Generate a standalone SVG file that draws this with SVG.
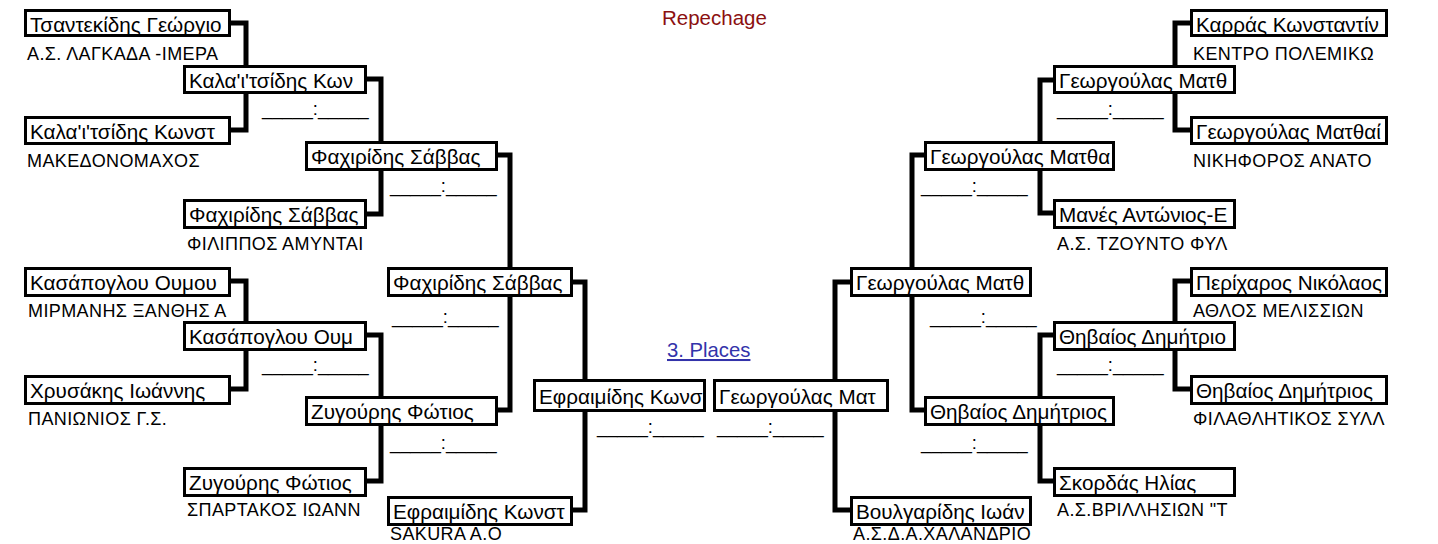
<svg xmlns="http://www.w3.org/2000/svg" width="1438" height="544" viewBox="0 0 1438 544">
<style>
text{font-family:"Liberation Sans",Arial,"Noto Sans",sans-serif;fill:#000}
.box{fill:#fff;stroke:#000;stroke-width:3}
.n{font-size:20.7px}
.c{font-size:18px;letter-spacing:0.4px}
.s{font-size:18.3px}
.con{fill:none;stroke:#000;stroke-width:5;stroke-linejoin:miter}
</style>
<rect width="1438" height="544" fill="#fff"/>
<text x="662" y="25" style="font-size:20.5px;fill:#8b1010">Repechage</text>
<text x="667" y="357" style="font-size:20.3px;fill:#3333aa;text-decoration:underline">3. Places</text>
<g id="connectors">
<path class="con" d="M231,23 H246 V130 H231"/>
<path class="con" d="M231,281 H246 V389 H231"/>
<path class="con" d="M366,79 H381 V214 H366"/>
<path class="con" d="M366,335 H381 V481 H366"/>
<path class="con" d="M498,155 H510 V410 H498"/>
<path class="con" d="M573,282 H585 V510 H573"/>
<path class="con" d="M850,282 H835 V510 H850"/>
<path class="con" d="M924,155 H912 V410 H924"/>
<path class="con" d="M1053,80 H1040 V213 H1053"/>
<path class="con" d="M1053,335 H1040 V481 H1053"/>
<path class="con" d="M1190,23 H1175 V130 H1190"/>
<path class="con" d="M1190,281 H1175 V389 H1190"/>
</g>
<g id="scores" class="s">
<text x="262" y="115">_____:_____</text>
<text x="262" y="371">_____:_____</text>
<text x="390" y="192">_____:_____</text>
<text x="390" y="449">_____:_____</text>
<text x="392" y="323">_____:_____</text>
<text x="597" y="433">_____:_____</text>
<text x="717" y="433">_____:_____</text>
<text x="930" y="323">_____:_____</text>
<text x="921" y="192">_____:_____</text>
<text x="921" y="449">_____:_____</text>
<text x="1057" y="115">_____:_____</text>
<text x="1057" y="371">_____:_____</text>
</g>
<g id="L1a"><rect class="box" x="25.5" y="10.5" width="204" height="25"/><text class="n" x="30" y="32">Τσαντεκίδης Γεώργιο</text><text class="c" x="27" y="60">Α.Σ. ΛΑΓΚΑΔΑ -ΙΜΕΡΑ</text></g>
<g id="L1b"><rect class="box" x="25.5" y="117.5" width="204" height="26"/><text class="n" x="30" y="139">Καλα'ι'τσίδης Κωνστ</text><text class="c" x="27" y="167">ΜΑΚΕΔΟΝΟΜΑΧΟΣ</text></g>
<g id="L1c"><rect class="box" x="25.5" y="268.5" width="204" height="27"/><text class="n" x="30" y="290">Κασάπογλου Ουμου</text><text class="c" x="28" y="317">ΜΙΡΜΑΝΗΣ ΞΑΝΘΗΣ Α</text></g>
<g id="L1d"><rect class="box" x="25.5" y="376.5" width="204" height="27"/><text class="n" x="30" y="398">Χρυσάκης Ιωάννης</text><text class="c" x="28" y="425">ΠΑΝΙΩΝΙΟΣ Γ.Σ.</text></g>
<g id="L2a"><rect class="box" x="184.5" y="66.5" width="181" height="26"/><text class="n" x="189" y="88">Καλα'ι'τσίδης Κων</text></g>
<g id="L2b"><rect class="box" x="184.5" y="200.5" width="181" height="27"/><text class="n" x="189" y="222">Φαχιρίδης Σάββας</text><text class="c" x="187" y="250">ΦΙΛΙΠΠΟΣ ΑΜΥΝΤΑΙ</text></g>
<g id="L2c"><rect class="box" x="184.5" y="322.5" width="181" height="27"/><text class="n" x="189" y="344">Κασάπογλου Ουμ</text></g>
<g id="L2d"><rect class="box" x="184.5" y="468.5" width="181" height="27"/><text class="n" x="189" y="490">Ζυγούρης Φώτιος</text><text class="c" x="187" y="516">ΣΠΑΡΤΑΚΟΣ ΙΩΑΝΝ</text></g>
<g id="L3a"><rect class="box" x="306.5" y="142.5" width="190" height="27"/><text class="n" x="311" y="164">Φαχιρίδης Σάββας</text></g>
<g id="L3b"><rect class="box" x="306.5" y="397.5" width="190" height="27"/><text class="n" x="311" y="419">Ζυγούρης Φώτιος</text></g>
<g id="L4a"><rect class="box" x="388.5" y="268.5" width="183" height="27"/><text class="n" x="393" y="290">Φαχιρίδης Σάββας</text></g>
<g id="L4b"><rect class="box" x="388.5" y="497.5" width="183" height="27"/><text class="n" x="393" y="519">Εφραιμίδης Κωνστ</text><text class="c" x="390" y="540">SAKURA A.O</text></g>
<g id="C1"><rect class="box" x="534.5" y="380.5" width="170" height="30"/><text class="n" x="539" y="404">Εφραιμίδης Κωνσ</text></g>
<g id="C2"><rect class="box" x="714.5" y="380.5" width="173" height="30"/><text class="n" x="719" y="404">Γεωργούλας Ματ</text></g>
<g id="R4a"><rect class="box" x="851.5" y="268.5" width="179" height="27"/><text class="n" x="856" y="290">Γεωργούλας Ματθ</text></g>
<g id="R4b"><rect class="box" x="851.5" y="497.5" width="179" height="27"/><text class="n" x="856" y="519">Βουλγαρίδης Ιωάν</text><text class="c" x="853" y="540">Α.Σ.Δ.Α.ΧΑΛΑΝΔΡΙΟ</text></g>
<g id="R3a"><rect class="box" x="925.5" y="142.5" width="188" height="27"/><text class="n" x="930" y="164">Γεωργούλας Ματθα</text></g>
<g id="R3b"><rect class="box" x="925.5" y="397.5" width="188" height="27"/><text class="n" x="930" y="419">Θηβαίος Δημήτριος</text></g>
<g id="R2a"><rect class="box" x="1054.5" y="66.5" width="180" height="26"/><text class="n" x="1059" y="88">Γεωργούλας Ματθ</text></g>
<g id="R2b"><rect class="box" x="1054.5" y="200.5" width="180" height="27"/><text class="n" x="1059" y="222">Μανές Αντώνιος-Ε</text><text class="c" x="1057" y="250">Α.Σ. ΤΖΟΥΝΤΟ ΦΥΛ</text></g>
<g id="R2c"><rect class="box" x="1054.5" y="322.5" width="180" height="27"/><text class="n" x="1059" y="344">Θηβαίος Δημήτριο</text></g>
<g id="R2d"><rect class="box" x="1054.5" y="468.5" width="180" height="27"/><text class="n" x="1059" y="490">Σκορδάς Ηλίας</text><text class="c" x="1057" y="516">Α.Σ.ΒΡΙΛΛΗΣΙΩΝ "Τ</text></g>
<g id="R1a"><rect class="box" x="1191.5" y="10.5" width="195" height="25"/><text class="n" x="1196" y="32">Καρράς Κωνσταντίν</text><text class="c" x="1193" y="60">ΚΕΝΤΡΟ ΠΟΛΕΜΙΚΩ</text></g>
<g id="R1b"><rect class="box" x="1191.5" y="117.5" width="195" height="26"/><text class="n" x="1196" y="139">Γεωργούλας Ματθαί</text><text class="c" x="1193" y="167">ΝΙΚΗΦΟΡΟΣ ΑΝΑΤΟ</text></g>
<g id="R1c"><rect class="box" x="1191.5" y="268.5" width="195" height="27"/><text class="n" x="1196" y="290">Περίχαρος Νικόλαος</text><text class="c" x="1193" y="317">ΑΘΛΟΣ ΜΕΛΙΣΣΙΩΝ</text></g>
<g id="R1d"><rect class="box" x="1191.5" y="376.5" width="195" height="27"/><text class="n" x="1196" y="398">Θηβαίος Δημήτριος</text><text class="c" x="1193" y="425">ΦΙΛΑΘΛΗΤΙΚΟΣ ΣΥΛΛ</text></g>
</svg>
